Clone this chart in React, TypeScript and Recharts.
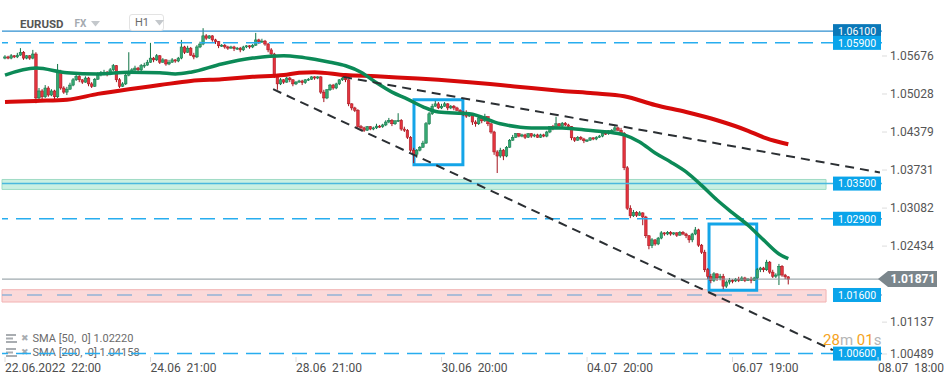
import { ComposedChart, Bar, Line, XAxis, YAxis, ReferenceLine, ReferenceArea } from "recharts";

const FONT = 'Roboto, "Noto Sans", sans-serif';

// hourly EURUSD candles: [open, high, low, close]
const candles: [number, number, number, number][] = [
  [1.0564, 1.0569, 1.0562, 1.0566], [1.0566, 1.0568, 1.0562, 1.0564], [1.0564, 1.0571, 1.0562, 1.0568], [1.0568, 1.0569, 1.0564, 1.0566],
  [1.0566, 1.0573, 1.0564, 1.0569], [1.0569, 1.0581, 1.0568, 1.0574], [1.0574, 1.0576, 1.0561, 1.0564], [1.0564, 1.0569, 1.0562, 1.0568],
  [1.0568, 1.0569, 1.0561, 1.0564], [1.0564, 1.0578, 1.0562, 1.0571], [1.0571, 1.0574, 1.0487, 1.0496], [1.0496, 1.0513, 1.0493, 1.0508],
  [1.0508, 1.0511, 1.0494, 1.0498], [1.0498, 1.0518, 1.0496, 1.0513], [1.0513, 1.0516, 1.0498, 1.0501], [1.0501, 1.0511, 1.0499, 1.0508],
  [1.0508, 1.051, 1.0493, 1.0498], [1.0498, 1.0554, 1.0496, 1.054], [1.054, 1.0544, 1.051, 1.0513], [1.0513, 1.0516, 1.0503, 1.0506],
  [1.0506, 1.0515, 1.0501, 1.0511], [1.0511, 1.0522, 1.051, 1.0518], [1.0518, 1.053, 1.0516, 1.0527], [1.0527, 1.0537, 1.0525, 1.0533],
  [1.0533, 1.0535, 1.0523, 1.0527], [1.0527, 1.0528, 1.052, 1.0523], [1.0523, 1.0533, 1.0522, 1.053], [1.053, 1.0532, 1.0516, 1.052],
  [1.052, 1.0523, 1.0513, 1.0516], [1.0516, 1.053, 1.0515, 1.0528], [1.0528, 1.054, 1.0527, 1.0537], [1.0537, 1.0542, 1.0533, 1.0539],
  [1.0539, 1.0544, 1.0535, 1.054], [1.054, 1.0542, 1.0533, 1.0537], [1.0537, 1.0547, 1.0535, 1.0544], [1.0544, 1.0554, 1.0542, 1.0551],
  [1.0551, 1.0552, 1.0523, 1.0527], [1.0527, 1.053, 1.0513, 1.0516], [1.0516, 1.0523, 1.0515, 1.052], [1.052, 1.0539, 1.0518, 1.0535],
  [1.0535, 1.0574, 1.0533, 1.054], [1.054, 1.0547, 1.0537, 1.0544], [1.0544, 1.0551, 1.0542, 1.0547], [1.0547, 1.0549, 1.054, 1.0544],
  [1.0544, 1.0554, 1.0542, 1.0551], [1.0551, 1.0556, 1.0547, 1.0552], [1.0552, 1.0561, 1.0551, 1.0557], [1.0557, 1.059, 1.0556, 1.0564],
  [1.0564, 1.0566, 1.0557, 1.0561], [1.0561, 1.0571, 1.0559, 1.0568], [1.0568, 1.0569, 1.0554, 1.0557], [1.0557, 1.0564, 1.0556, 1.0561],
  [1.0561, 1.0562, 1.0551, 1.0554], [1.0554, 1.0561, 1.0552, 1.0557], [1.0557, 1.0564, 1.0556, 1.0561], [1.0561, 1.0562, 1.0556, 1.0559],
  [1.0559, 1.0566, 1.0557, 1.0564], [1.0564, 1.0595, 1.0562, 1.0583], [1.0583, 1.0585, 1.0571, 1.0574], [1.0574, 1.0585, 1.0573, 1.0581],
  [1.0581, 1.0583, 1.0568, 1.0569], [1.0569, 1.0573, 1.0562, 1.0566], [1.0566, 1.0586, 1.0564, 1.0583], [1.0583, 1.0592, 1.0581, 1.0588],
  [1.0588, 1.0615, 1.0586, 1.0602], [1.0602, 1.0605, 1.0595, 1.0598], [1.0598, 1.0603, 1.0597, 1.0602], [1.0602, 1.0603, 1.0592, 1.0595],
  [1.0595, 1.0597, 1.0588, 1.0592], [1.0592, 1.0593, 1.0581, 1.0585], [1.0585, 1.0588, 1.0583, 1.0586], [1.0586, 1.0588, 1.058, 1.0583],
  [1.0583, 1.0585, 1.0578, 1.0581], [1.0581, 1.0585, 1.058, 1.0583], [1.0583, 1.0585, 1.0576, 1.058], [1.058, 1.0583, 1.0578, 1.0581],
  [1.0581, 1.0583, 1.0574, 1.0578], [1.0578, 1.0585, 1.0576, 1.0583], [1.0583, 1.0586, 1.0581, 1.0585], [1.0585, 1.0586, 1.058, 1.0583],
  [1.0583, 1.0588, 1.0581, 1.0586], [1.0586, 1.0607, 1.0585, 1.0595], [1.0595, 1.0597, 1.0588, 1.0592], [1.0592, 1.0597, 1.059, 1.0593],
  [1.0593, 1.0595, 1.0585, 1.0588], [1.0588, 1.059, 1.0574, 1.0578], [1.0578, 1.0581, 1.0568, 1.0571], [1.0571, 1.0573, 1.053, 1.0533],
  [1.0533, 1.0537, 1.051, 1.052], [1.052, 1.053, 1.0518, 1.0527], [1.0527, 1.0528, 1.052, 1.0523], [1.0523, 1.0532, 1.0522, 1.053],
  [1.053, 1.0532, 1.0523, 1.0527], [1.0527, 1.0528, 1.0516, 1.052], [1.052, 1.0525, 1.0518, 1.0523], [1.0523, 1.0527, 1.0522, 1.0525],
  [1.0525, 1.0527, 1.0518, 1.0522], [1.0522, 1.0528, 1.052, 1.0527], [1.0527, 1.053, 1.0525, 1.0528], [1.0528, 1.0533, 1.0527, 1.0532],
  [1.0532, 1.0533, 1.0527, 1.053], [1.053, 1.0533, 1.0528, 1.0532], [1.0532, 1.0533, 1.0503, 1.0506], [1.0506, 1.051, 1.0489, 1.0496],
  [1.0496, 1.0511, 1.0494, 1.051], [1.051, 1.052, 1.0508, 1.0518], [1.0518, 1.052, 1.051, 1.0513], [1.0513, 1.0522, 1.0511, 1.052],
  [1.052, 1.0528, 1.0518, 1.0527], [1.0527, 1.0533, 1.0525, 1.053], [1.053, 1.0532, 1.0523, 1.0527], [1.0527, 1.0528, 1.0482, 1.0486],
  [1.0486, 1.0487, 1.0475, 1.0479], [1.0479, 1.0481, 1.0472, 1.0475], [1.0475, 1.0477, 1.0443, 1.0447], [1.0447, 1.045, 1.0441, 1.0445],
  [1.0445, 1.0447, 1.0438, 1.0441], [1.0441, 1.0448, 1.044, 1.0447], [1.0447, 1.0448, 1.0441, 1.0443], [1.0443, 1.0447, 1.0441, 1.0445],
  [1.0445, 1.0452, 1.0443, 1.0448], [1.0448, 1.045, 1.0445, 1.0447], [1.0447, 1.0452, 1.0445, 1.045], [1.045, 1.0458, 1.0448, 1.0455],
  [1.0455, 1.0462, 1.0453, 1.0458], [1.0458, 1.046, 1.0448, 1.0452], [1.0452, 1.0458, 1.045, 1.0457], [1.0457, 1.047, 1.0455, 1.0458],
  [1.0458, 1.046, 1.044, 1.0443], [1.0443, 1.0447, 1.0438, 1.0441], [1.0441, 1.0443, 1.0426, 1.0429], [1.0429, 1.0431, 1.0404, 1.0407],
  [1.0407, 1.0411, 1.0385, 1.04], [1.04, 1.0409, 1.0394, 1.0407], [1.0407, 1.0414, 1.0405, 1.0412], [1.0412, 1.0423, 1.0411, 1.0419],
  [1.0419, 1.0455, 1.0418, 1.0452], [1.0452, 1.0472, 1.045, 1.0469], [1.0469, 1.0486, 1.0467, 1.0482], [1.0482, 1.0491, 1.0481, 1.0486],
  [1.0486, 1.0489, 1.0477, 1.0479], [1.0479, 1.0486, 1.0477, 1.0482], [1.0482, 1.0489, 1.0481, 1.0486], [1.0486, 1.0487, 1.0475, 1.0479],
  [1.0479, 1.0484, 1.0477, 1.0482], [1.0482, 1.0484, 1.0475, 1.0479], [1.0479, 1.0481, 1.0474, 1.0475], [1.0475, 1.0477, 1.0469, 1.0472],
  [1.0472, 1.0474, 1.0465, 1.0469], [1.0469, 1.0475, 1.0462, 1.0465], [1.0465, 1.0469, 1.0464, 1.0467], [1.0467, 1.0469, 1.045, 1.0455],
  [1.0455, 1.0458, 1.0447, 1.0452], [1.0452, 1.0465, 1.045, 1.0462], [1.0462, 1.0464, 1.0453, 1.0457], [1.0457, 1.0469, 1.0455, 1.0464],
  [1.0464, 1.0465, 1.0448, 1.0452], [1.0452, 1.0453, 1.0435, 1.0438], [1.0438, 1.044, 1.0399, 1.0404], [1.0404, 1.0407, 1.0368, 1.0397],
  [1.0397, 1.0411, 1.0394, 1.0407], [1.0407, 1.0409, 1.039, 1.0397], [1.0397, 1.0414, 1.0395, 1.0412], [1.0412, 1.0426, 1.0411, 1.0424],
  [1.0424, 1.0433, 1.0423, 1.0429], [1.0429, 1.0436, 1.0428, 1.0435], [1.0435, 1.0436, 1.0429, 1.0431], [1.0431, 1.0435, 1.0429, 1.0433],
  [1.0433, 1.0435, 1.0426, 1.0429], [1.0429, 1.0436, 1.0428, 1.0435], [1.0435, 1.0436, 1.0428, 1.0431], [1.0431, 1.0435, 1.0429, 1.0433],
  [1.0433, 1.0435, 1.0428, 1.0429], [1.0429, 1.0435, 1.0428, 1.0433], [1.0433, 1.0435, 1.0429, 1.0431], [1.0431, 1.044, 1.0429, 1.0438],
  [1.0438, 1.0448, 1.0436, 1.0447], [1.0447, 1.045, 1.0441, 1.0445], [1.0445, 1.0464, 1.0443, 1.0452], [1.0452, 1.0453, 1.0447, 1.0448],
  [1.0448, 1.0455, 1.0447, 1.0453], [1.0453, 1.0455, 1.0448, 1.045], [1.045, 1.0452, 1.0443, 1.0447], [1.0447, 1.0448, 1.0424, 1.0428],
  [1.0428, 1.0429, 1.0421, 1.0424], [1.0424, 1.0431, 1.0423, 1.0429], [1.0429, 1.0431, 1.0424, 1.0426], [1.0426, 1.0428, 1.0419, 1.0423],
  [1.0423, 1.0426, 1.0421, 1.0424], [1.0424, 1.0429, 1.0423, 1.0428], [1.0428, 1.0429, 1.0424, 1.0426], [1.0426, 1.0431, 1.0424, 1.0429],
  [1.0429, 1.0433, 1.0428, 1.0431], [1.0431, 1.0438, 1.0429, 1.0436], [1.0436, 1.0438, 1.0433, 1.0435], [1.0435, 1.0441, 1.0433, 1.044],
  [1.044, 1.0443, 1.0438, 1.0441], [1.0441, 1.045, 1.044, 1.0445], [1.0445, 1.0447, 1.044, 1.0441], [1.0441, 1.0445, 1.0433, 1.0436],
  [1.0436, 1.0438, 1.0373, 1.0377], [1.0377, 1.038, 1.0305, 1.0308], [1.0308, 1.0313, 1.0291, 1.0295], [1.0295, 1.0305, 1.0293, 1.0301],
  [1.0301, 1.0303, 1.0293, 1.0296], [1.0296, 1.0303, 1.0295, 1.03], [1.03, 1.0301, 1.0279, 1.0293], [1.0293, 1.0295, 1.0257, 1.0261],
  [1.0261, 1.0262, 1.0238, 1.0244], [1.0244, 1.0257, 1.024, 1.0254], [1.0254, 1.0255, 1.0244, 1.0247], [1.0247, 1.0259, 1.0245, 1.0257],
  [1.0257, 1.0269, 1.0255, 1.0266], [1.0266, 1.0267, 1.0261, 1.0264], [1.0264, 1.0269, 1.0262, 1.0267], [1.0267, 1.0269, 1.0261, 1.0264],
  [1.0264, 1.0267, 1.0262, 1.0266], [1.0266, 1.0267, 1.0259, 1.0262], [1.0262, 1.0269, 1.0261, 1.0267], [1.0267, 1.0269, 1.0262, 1.0264],
  [1.0264, 1.0266, 1.0257, 1.0261], [1.0261, 1.0262, 1.0249, 1.0254], [1.0254, 1.0266, 1.025, 1.0264], [1.0264, 1.0276, 1.0262, 1.0271],
  [1.0271, 1.0273, 1.0242, 1.0245], [1.0245, 1.0247, 1.023, 1.0233], [1.0233, 1.0237, 1.0199, 1.0203], [1.0203, 1.0206, 1.0187, 1.0192],
  [1.0192, 1.0196, 1.018, 1.0185], [1.0185, 1.0199, 1.0182, 1.0196], [1.0196, 1.0197, 1.0184, 1.0189], [1.0189, 1.0196, 1.0185, 1.0192],
  [1.0192, 1.0196, 1.017, 1.0175], [1.0175, 1.0185, 1.0172, 1.0182], [1.0182, 1.0189, 1.0178, 1.0185], [1.0185, 1.0187, 1.018, 1.0184],
  [1.0184, 1.0189, 1.0182, 1.0187], [1.0187, 1.0191, 1.0182, 1.0185], [1.0185, 1.0192, 1.0184, 1.0189], [1.0189, 1.0191, 1.0182, 1.0185],
  [1.0185, 1.0189, 1.0184, 1.0187], [1.0187, 1.0191, 1.018, 1.0185], [1.0185, 1.0191, 1.0184, 1.0189], [1.0189, 1.0206, 1.0187, 1.0203],
  [1.0203, 1.0208, 1.0199, 1.0206], [1.0206, 1.0208, 1.0199, 1.0203], [1.0203, 1.022, 1.0201, 1.0216], [1.0216, 1.0218, 1.0196, 1.0199],
  [1.0199, 1.0203, 1.0189, 1.0192], [1.0192, 1.0197, 1.0189, 1.0194], [1.0194, 1.0213, 1.0177, 1.0209], [1.0209, 1.0211, 1.0191, 1.0194],
  [1.0194, 1.0196, 1.0187, 1.0191], [1.0191, 1.0192, 1.0178, 1.0187],
];

// moving averages: [candle index, value]
const sma50: [number, number][] = [
  [0, 1.0535], [10, 1.0547], [20, 1.0539], [30, 1.0537], [40, 1.054], [50, 1.0539], [55, 1.0537], [60, 1.054],
  [70, 1.0554], [80, 1.0564], [90, 1.0568], [95, 1.0566], [100, 1.0562], [105, 1.0557], [110, 1.0551], [115, 1.054],
  [120, 1.0522], [125, 1.0506], [130, 1.0494], [135, 1.0481], [140, 1.0472], [150, 1.0469], [160, 1.0452], [170, 1.0445],
  [180, 1.0445], [190, 1.044], [195, 1.0438], [200, 1.0433], [205, 1.0421], [210, 1.0402], [215, 1.0387], [220, 1.037],
  [225, 1.0347], [230, 1.0322], [235, 1.03], [240, 1.0279], [245, 1.0254], [250, 1.023], [253, 1.0222],
];
const sma200: [number, number][] = [
  [0, 1.0489], [10, 1.0491], [20, 1.0493], [30, 1.0503], [40, 1.0511], [50, 1.0518], [60, 1.0525], [70, 1.0528],
  [80, 1.0532], [90, 1.0535], [95, 1.0539], [100, 1.054], [110, 1.0535], [120, 1.0533], [130, 1.053], [140, 1.0527],
  [150, 1.0523], [160, 1.0518], [170, 1.0513], [180, 1.0508], [190, 1.0504], [200, 1.0499], [210, 1.0484], [220, 1.0472],
  [230, 1.0458], [240, 1.044], [245, 1.0429], [250, 1.0421], [253, 1.0417],
];

const levelPrices = [1.061, 1.059, 1.035, 1.029, 1.016, 1.006];
const levelLabels = ["1.06100", "1.05900", "1.03500", "1.02900", "1.01600", "1.00600"];
const lastPrice = 1.01871;
const resistanceBand = [1.034, 1.0357];
const supportBand = [1.0148, 1.0169];
const bandEndIdx = 265.2;
const upperTrend: [number, number][] = [[109.2, 1.0532], [282.6, 1.0369]];
const lowerTrend: [number, number][] = [[86.6, 1.0511], [267.4, 1.0066]];
const boxes: [number, number, number, number][] = [
  [132.1, 147.9, 1.0382, 1.0493],
  [227.4, 242.8, 1.0168, 1.0281],
];

const xTickIdx = [0, 47, 94, 141, 188, 235, 282];
const xTickLabels = ["22.06.2022 22:00", "24.06 21:00", "28.06 21:00", "30.06 20:00", "04.07 20:00", "06.07 19:00", "08.07 18:00"];
const yTicks = [1.05676, 1.05028, 1.04379, 1.03731, 1.03082, 1.02434, 1.01137, 1.00489];

const candleData = candles.map(([o, h, l, c], i) => ({ i, o, h, l, c }));
const sma50Data = sma50.map(([i, v]) => ({ i, v }));
const sma200Data = sma200.map(([i, v]) => ({ i, v }));

const levelStyle = [
  { stroke: "#2f8fd0", dash: undefined, tag: "#0a78b8" },
  { stroke: "#27adef", dash: "15 8", tag: "#0aa4ea" },
  { stroke: "#4ab8de", dash: undefined, tag: "#0aa4ea" },
  { stroke: "#27adef", dash: "15 8", tag: "#0aa4ea" },
  { stroke: "#93b3d6", dash: "15 15", tag: "#0aa4ea" },
  { stroke: "#27adef", dash: "15 8", tag: "#0aa4ea" },
];

const Candle = (props: any) => {
  const { x, y, width, height, payload } = props;
  if (!payload) return null;
  const top = Math.min(y, y + height);
  const bot = Math.max(y, y + height);
  const span = payload.h - payload.l || 1;
  const py = (p: number) => top + ((payload.h - p) / span) * (bot - top);
  const cx = x + width / 2;
  const up = payload.c >= payload.o;
  const yo = py(payload.o);
  const yc = py(payload.c);
  const bodyTop = Math.min(yo, yc);
  const bodyH = Math.max(Math.abs(yc - yo), 1);
  const edge = up ? "#0f7345" : "#a3121c";
  return (
    <g>
      <line x1={cx} x2={cx} y1={top} y2={bot} stroke={edge} strokeWidth={1} />
      <rect x={cx - 1.3} y={bodyTop} width={2.6} height={bodyH} fill={up ? "#35a872" : "#e3343e"} stroke={edge} strokeWidth={0.5} />
    </g>
  );
};

const LevelTag = ({ viewBox, text, bg }: any) => {
  if (!viewBox) return null;
  const right = viewBox.x + viewBox.width;
  return (
    <g>
      <rect x={right - 49} y={viewBox.y - 7} width={48} height={14} fill={bg} />
      <text x={right - 25} y={viewBox.y + 3.8} textAnchor="middle" fontSize={10.5} fill="#fff" fontFamily={FONT}>
        {text}
      </text>
    </g>
  );
};

const LastTag = ({ viewBox, text }: any) => {
  if (!viewBox) return null;
  const r = viewBox.x + viewBox.width;
  const y = viewBox.y;
  return (
    <g>
      <path d={`M${r - 4},${y} L${r + 6},${y - 8} L${r + 55},${y - 8} L${r + 55},${y + 8} L${r + 6},${y + 8} Z`} fill="#7b868c" />
      <text x={r + 31} y={y + 4.3} textAnchor="middle" fontSize={12} fontWeight={700} fill="#fff" fontFamily={FONT}>
        {text}
      </text>
    </g>
  );
};

const XTick = ({ x, y, payload }: any) => {
  const label = xTickLabels[xTickIdx.indexOf(payload.value)] ?? "";
  const [d, t] = label.split(" ");
  return (
    <g>
      <line x1={x} x2={x} y1={y - 14} y2={y - 9} stroke="#dcdcdc" />
      <text x={x} y={y + 1} fontSize={12} fill="#4d4d4d" fontFamily={FONT}>
        {d}
        {"\u00a0\u00a0"}
        {t}
      </text>
    </g>
  );
};

const YTick = ({ x, y, payload }: any) => {
  const yy = Math.min(y, 354);
  return (
    <g>
      <line x1={x - 8} x2={x - 3} y1={yy} y2={yy} stroke="#dddddd" />
      <text x={x} y={yy + 4.2} fontSize={12} fill="#555" fontFamily={FONT}>
        {Number(payload.value).toFixed(5)}
      </text>
    </g>
  );
};

const Caret = ({ color }: { color: string }) => (
  <svg width={9} height={6} style={{ display: "inline-block" }}>
    <path d="M0,0 L9,0 L4.5,5.5 Z" fill={color} />
  </svg>
);

const LegendRow = ({ top, text }: { top: number; text: string }) => (
  <div style={{ position: "absolute", left: 6, top, height: 14, display: "flex", alignItems: "center", fontSize: 11, color: "#6b6b6b", whiteSpace: "pre" }}>
    <svg width={12} height={9} style={{ marginRight: 3 }}>
      <rect x={0} y={0} width={10} height={2} fill="#a9adb1" />
      <rect x={0} y={3.5} width={7} height={2} fill="#a9adb1" />
      <rect x={0} y={7} width={11} height={2} fill="#a9adb1" />
    </svg>
    <span style={{ color: "#a9adb1", fontFamily: "DejaVu Sans", fontSize: 9, marginRight: 4 }}>✖</span>
    <span>{text}</span>
  </div>
);

export default function App() {
  return (
    <div style={{ position: "fixed", left: 0, top: 0, width: 949, height: 385, background: "#fff", fontFamily: FONT, overflow: "hidden" }}>
      <LegendRow top={331} text="SMA [50,  0] 1.02220" />
      <LegendRow top={345} text="SMA [200,  0] 1.04158" />
      <div style={{ position: "absolute", left: 0, top: 0 }}>
        <ComposedChart width={949} height={385} data={candleData} margin={{ top: 0, right: 0, bottom: 0, left: 2 }}>
          <XAxis
            dataKey="i"
            type="number"
            domain={[-0.97, 283.27]}
            allowDataOverflow
            ticks={xTickIdx}
            interval={0}
            tick={<XTick />}
            tickLine={false}
            axisLine={false}
            height={22}
          />
          <YAxis
            orientation="right"
            type="number"
            domain={[1.0044, 1.06631]}
            allowDataOverflow
            ticks={yTicks}
            interval={0}
            tick={<YTick />}
            tickLine={false}
            axisLine={false}
            width={67}
          />
          <ReferenceArea x1={-0.97} x2={bandEndIdx} y1={resistanceBand[0]} y2={resistanceBand[1]} fill="#c9f0e2" fillOpacity={1} stroke="#9fdcc5" strokeWidth={1} />
          <ReferenceArea x1={-0.97} x2={bandEndIdx} y1={supportBand[0]} y2={supportBand[1]} fill="#fbd9d9" fillOpacity={1} stroke="#f2b3b3" strokeWidth={1} />
          {levelPrices.map((p, k) => (
            <ReferenceLine
              key={p}
              y={p}
              stroke={levelStyle[k].stroke}
              strokeWidth={k === 0 ? 1.2 : 1.5}
              strokeDasharray={levelStyle[k].dash}
              label={<LevelTag text={levelLabels[k]} bg={levelStyle[k].tag} />}
            />
          ))}
          <ReferenceLine y={lastPrice} stroke="#87949a" strokeWidth={1} label={<LastTag text={lastPrice.toFixed(5)} />} />
          <Bar dataKey={(d: any) => [d.l, d.h]} barSize={3} shape={<Candle />} isAnimationActive={false} />
          <Line data={sma200Data} dataKey="v" type="monotone" stroke="#d60a0a" strokeWidth={4} dot={false} isAnimationActive={false} />
          <Line data={sma50Data} dataKey="v" type="monotone" stroke="#0c8a57" strokeWidth={3.5} dot={false} isAnimationActive={false} />
          <ReferenceLine
            segment={[{ x: upperTrend[0][0], y: upperTrend[0][1] }, { x: upperTrend[1][0], y: upperTrend[1][1] }]}
            stroke="#2b2f33"
            strokeWidth={2}
            strokeDasharray="9 6"
          />
          <ReferenceLine
            segment={[{ x: lowerTrend[0][0], y: lowerTrend[0][1] }, { x: lowerTrend[1][0], y: lowerTrend[1][1] }]}
            stroke="#2b2f33"
            strokeWidth={2}
            strokeDasharray="9 6"
          />
          {boxes.map(([x1, x2, y1, y2]) => (
            <ReferenceArea key={x1} x1={x1} x2={x2} y1={y1} y2={y2} fill="none" stroke="#14a5e8" strokeWidth={3} />
          ))}
        </ComposedChart>
      </div>
      <div style={{ position: "absolute", left: 20, top: 15, display: "flex", alignItems: "center", height: 17 }}>
        <span style={{ fontSize: 11.5, fontWeight: 700, color: "#555" }}>EURUSD</span>
        <span style={{ fontSize: 10, fontWeight: 700, color: "#a4aab0", marginLeft: 11 }}>FX</span>
        <span style={{ marginLeft: 5, display: "flex" }}>
          <Caret color="#c4c8cc" />
        </span>
      </div>
      <div
        style={{
          position: "absolute",
          left: 129,
          top: 14,
          width: 35,
          height: 17,
          border: "1px solid #e3e3e3",
          borderRadius: 3,
          boxSizing: "border-box",
          display: "flex",
          alignItems: "center",
          paddingLeft: 5,
          fontSize: 11,
          color: "#6a6a6a",
        }}
      >
        <span>H1</span>
        <span style={{ marginLeft: 6, display: "flex" }}>
          <Caret color="#c4c8cc" />
        </span>
      </div>
      <div style={{ position: "absolute", left: 823, top: 331, fontSize: 15, lineHeight: "18px", whiteSpace: "pre" }}>
        <span style={{ color: "#f5a31e" }}>28</span>
        <span style={{ color: "#b5b5b5" }}>m </span>
        <span style={{ color: "#f5a31e" }}>01</span>
        <span style={{ color: "#b5b5b5" }}>s</span>
      </div>
    </div>
  );
}
